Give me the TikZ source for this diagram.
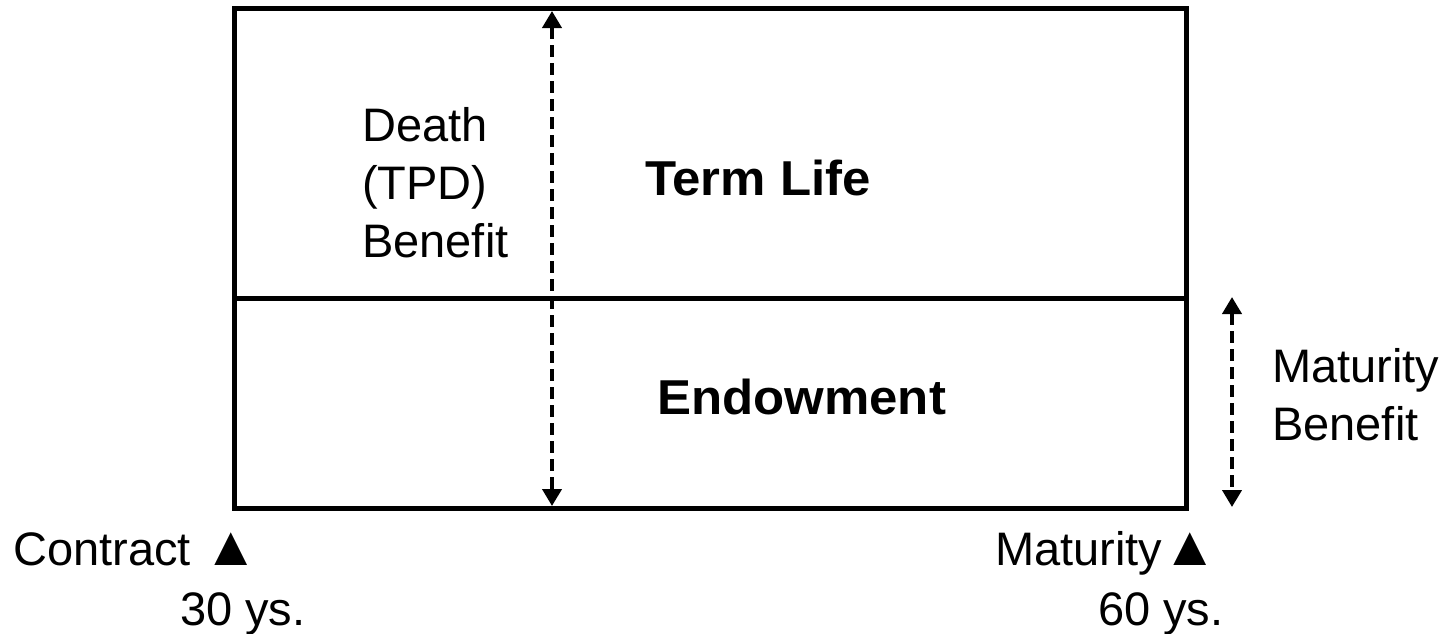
\documentclass[tikz,border=0pt]{standalone}
\usepackage{fontspec}
\setmainfont{Liberation Sans}
\usetikzlibrary{arrows.meta}
\newcommand{\bigtri}{{\fontsize{56}{58}\selectfont ▲}}
\tikzset{
  box/.style={draw, line width=5pt, inner sep=0pt, outer sep=0pt, anchor=north west},
  lbl/.style={inner sep=0pt, anchor=base west, font=\fontsize{47}{58}\selectfont, align=left},
  big/.style={inner sep=0pt, anchor=base west, font=\fontsize{49}{58}\selectfont\bfseries, xscale=1.04},
  dasharrow/.style={line width=4pt, dash pattern=on 12pt off 6pt, {Triangle[length=17pt,width=19pt]}-{Triangle[length=17pt,width=19pt]}}
}
\begin{document}
\begin{tikzpicture}[x=1pt,y=-1pt]
\useasboundingbox (0,0) rectangle (1443,633);
\node[box, minimum width=951.5pt, minimum height=289.5pt] (top) at (234.5,8.5) {};
\node[box, minimum width=951.5pt, minimum height=210pt] (bot) at (234.5,298) {};
\coordinate (d1) at (552,11);
\coordinate (d2) at (552,506);
\draw[dasharrow] (d1) -- (d2);
\coordinate (m1) at (1232,297);
\coordinate (m2) at (1232,507);
\draw[dasharrow] (m1) -- (m2);
\node[lbl] (death) at (362,257) {Death\\(TPD)\\Benefit};
\node[big] (term) at (645,195) {Term Life};
\node[big] (endow) at (657,414) {Endowment};
\node[lbl] (mat) at (1272,440) {Maturity\\Benefit};
\node[lbl] (contract) at (13,565) {Contract \bigtri};
\node[lbl] (y30) at (180,625) {30 ys.};
\node[lbl] (maturity) at (995,565) {Maturity\bigtri};
\node[lbl] (y60) at (1098,625) {60 ys.};
\end{tikzpicture}
\end{document}
